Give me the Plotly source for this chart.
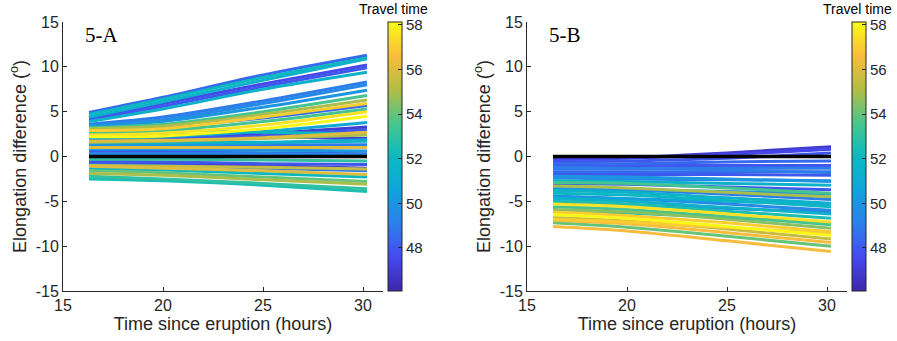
import plotly.graph_objects as go
from plotly.colors import sample_colorscale

# sample times (hours since eruption) at which each curve is read
x_hours = [16.3, 20, 25, 30.2]

# Panel 5-A: elongation difference at x_hours, and travel time of each run
a_curves = [
    [4.9, 6.6, 9.1, 11.3], [4.7, 6.4, 8.8, 11.0], [4.4, 6.1, 8.5, 10.9], [4.3, 5.9, 8.1, 10.2],
    [4.1, 5.6, 7.8, 9.9], [3.9, 5.3, 7.5, 9.4], [3.6, 4.4, 6.2, 8.3], [3.5, 4.1, 5.9, 8.0],
    [3.4, 3.9, 5.5, 7.4], [3.2, 3.6, 5.0, 6.8], [3.1, 3.4, 4.7, 6.3], [2.9, 3.1, 4.4, 5.9],
    [2.8, 3.3, 4.3, 5.7], [2.6, 2.9, 3.9, 5.3], [2.4, 2.6, 3.5, 5.0], [2.2, 2.3, 3.1, 4.5],
    [2.0, 2.2, 2.8, 3.8], [2.3, 2.4, 2.6, 3.3], [1.9, 2.0, 2.3, 3.0], [1.7, 1.8, 2.1, 2.7],
    [2.5, 2.4, 2.2, 2.0], [1.5, 1.5, 1.6, 1.7], [1.3, 1.3, 1.3, 1.3], [1.0, 1.0, 1.0, 1.0],
    [0.8, 0.8, 0.7, 0.6], [0.5, 0.5, 0.4, 0.3], [0.3, 0.3, 0.3, 0.2], [-0.3, -0.3, -0.4, -0.5],
    [-0.5, -0.6, -0.8, -0.9], [-0.7, -0.8, -1.0, -1.3], [-0.9, -1.0, -1.3, -1.6], [-1.1, -1.3, -1.6, -2.0],
    [-1.3, -1.5, -1.9, -2.3], [-1.6, -1.8, -2.3, -2.8], [-1.9, -2.1, -2.6, -3.1], [-2.2, -2.5, -3.0, -3.6],
    [-2.5, -2.7, -3.2, -3.9], [1.6, 1.7, 2.0, 2.4], [3.3, 3.0, 2.7, 2.5], [1.1, 1.2, 1.5, 1.9],
    [-1.0, -1.1, -1.2, -1.4], [0.6, 0.6, 0.8, 1.1],
]
a_travel = [
    48.5, 52, 51.5, 47.5, 48, 51.5, 49, 49.5, 50, 53.5, 55, 57,
    48.5, 53.5, 57.5, 58, 51, 47, 48, 56, 47, 51.5, 49, 56,
    50, 48, 49.5, 53, 48, 47, 49, 56, 52, 54, 55, 53,
    52.5, 55, 52, 50, 55.5, 47.5,
]

# Panel 5-B
b_curves = [
    [-0.2, -0.1, 0.4, 1.1], [-0.4, -0.2, 0.2, 0.8], [-0.6, -0.5, -0.2, 0.4], [-0.8, -0.8, -0.6, -0.5],
    [-1.0, -1.0, -1.0, -1.0], [-1.4, -1.4, -1.3, -1.3], [-1.7, -1.7, -1.7, -1.7], [-2.0, -2.0, -2.0, -2.1],
    [-2.4, -2.5, -2.6, -2.7], [-2.7, -2.8, -3.0, -3.2], [-3.0, -3.1, -3.4, -3.7], [-2.9, -3.0, -3.5, -4.1],
    [-3.3, -3.5, -4.0, -4.5], [-3.5, -3.7, -4.2, -4.8], [-3.8, -4.0, -4.6, -5.2], [-4.1, -4.3, -4.9, -5.6],
    [-4.4, -4.7, -5.3, -6.0], [-4.7, -5.0, -5.7, -6.4], [-5.0, -5.3, -6.1, -6.9], [-5.3, -5.6, -6.4, -7.3],
    [-5.6, -5.9, -6.7, -7.6], [-5.9, -6.2, -7.0, -8.0], [-6.2, -6.6, -7.4, -8.4], [-6.5, -6.9, -7.8, -8.8],
    [-6.8, -7.2, -8.1, -9.2], [-7.1, -7.5, -8.5, -9.6], [-7.4, -7.9, -8.9, -10.0], [-7.8, -8.3, -9.4, -10.6],
    [-3.6, -3.7, -3.9, -4.2], [-4.6, -4.7, -5.0, -5.3], [-5.2, -5.4, -5.8, -6.2], [-1.2, -1.3, -1.5, -1.8],
    [-2.2, -2.3, -2.5, -2.8], [-6.0, -6.3, -6.8, -7.4], [-7.0, -7.3, -7.9, -8.6],
]
b_travel = [
    47, 47.5, 48, 48.5, 48, 49, 48.5, 48, 49.5, 51.5, 48, 53.5,
    55, 49, 51.5, 52, 49.5, 51.5, 52.5, 57.5, 53.5, 54.5, 57, 58,
    55.5, 56.5, 54, 56.5, 50, 50.5, 49, 49, 50, 52, 57,
]

reference_line = [0, 0, 0, 0]

travel_min, travel_max = 46.07, 58.13
cbar_ticks = [48, 50, 52, 54, 56, 58]
x_ticks = [15, 20, 25, 30]
y_ticks = [-15, -10, -5, 0, 5, 10, 15]

parula = [
    [0.0, "#3E26A8"], [0.125, "#4549EE"], [0.25, "#2D7FEA"], [0.375, "#12A3DA"],
    [0.5, "#0BBAC0"], [0.625, "#4BC58C"], [0.75, "#B2BD46"], [0.875, "#FBBC3C"],
    [1.0, "#F9FB15"],
]


def color_of(t):
    return sample_colorscale(parula, [(t - travel_min) / (travel_max - travel_min)])[0]


fig = go.Figure()
font_main = "Liberation Sans, Arial, sans-serif"
axis_color = "#262626"

panels = [
    (a_curves, a_travel, "x", "y", 388 / 897, "5-A", 83, 359),
    (b_curves, b_travel, "x2", "y2", 852 / 897, "5-B", 547, 823),
]
for curves, travel, xa, ya, cbx, label, lx, tx in panels:
    order = sorted(range(len(curves)), key=lambda i: travel[i])
    for i in order:
        fig.add_trace(go.Scatter(
            x=x_hours, y=curves[i], mode="lines", xaxis=xa, yaxis=ya,
            line=dict(color=color_of(travel[i]), width=3, shape="spline", smoothing=0.8),
            showlegend=False, hoverinfo="skip"))
    fig.add_trace(go.Scatter(
        x=x_hours, y=reference_line, mode="lines", xaxis=xa, yaxis=ya,
        line=dict(color="black", width=3.5), showlegend=False))
    fig.add_trace(go.Scatter(
        x=[None], y=[None], mode="markers", xaxis=xa, yaxis=ya, showlegend=False,
        marker=dict(color=[travel_min], colorscale=parula, cmin=travel_min, cmax=travel_max,
                    showscale=True,
                    colorbar=dict(x=cbx, xanchor="left", xref="paper", thickness=14,
                                  thicknessmode="pixels", len=269 / 341, lenmode="fraction",
                                  y=(341 - 22) / 341, yanchor="top",
                                  tickvals=cbar_ticks, ticks="inside", ticklen=4,
                                  tickcolor=axis_color, outlinecolor=axis_color, outlinewidth=1,
                                  tickfont=dict(family=font_main, size=15, color=axis_color),
                                  xpad=0, ypad=0))))
    fig.add_annotation(text=label, xref="paper", yref="paper", x=lx / 897, y=1 - 35 / 341,
                       xanchor="left", yanchor="middle", showarrow=False,
                       font=dict(family="Liberation Serif, Times New Roman, serif", size=21, color="black"))
    fig.add_annotation(text="Travel time", xref="paper", yref="paper", x=tx / 897, y=1 - 9 / 341,
                       xanchor="left", yanchor="middle", showarrow=False, xshift=-2,
                       font=dict(family=font_main, size=14, color="black"))

xaxis_common = dict(range=[15, 31], tickvals=x_ticks, ticks="inside", ticklen=4,
                    showline=True, linecolor=axis_color, linewidth=1, tickcolor=axis_color,
                    showgrid=False, zeroline=False, automargin=False,
                    tickfont=dict(family=font_main, size=16, color=axis_color),
                    title=dict(text="Time since eruption (hours)", standoff=3,
                               font=dict(family=font_main, size=18, color=axis_color)))
yaxis_common = dict(range=[-15, 15], tickvals=y_ticks, ticktext=[str(v) for v in y_ticks],
                    ticks="inside", ticklen=4,
                    showline=True, linecolor=axis_color, linewidth=1, tickcolor=axis_color,
                    showgrid=False, zeroline=False, automargin=False,
                    tickfont=dict(family=font_main, size=16, color=axis_color),
                    title=dict(text="Elongation difference (<sup>o</sup>)", standoff=4,
                               font=dict(family=font_main, size=18, color=axis_color)))

ydom = [(341 - 291) / 341, (341 - 22) / 341]
fig.update_layout(
    width=897, height=341, margin=dict(l=0, r=0, t=0, b=0),
    paper_bgcolor="white", plot_bgcolor="white",
    xaxis=dict(domain=[63 / 897, 383 / 897], anchor="y", **xaxis_common),
    yaxis=dict(domain=ydom, anchor="x", **yaxis_common),
    xaxis2=dict(domain=[527 / 897, 847 / 897], anchor="y2", **xaxis_common),
    yaxis2=dict(domain=ydom, anchor="x2", **yaxis_common),
)

fig.write_html("out.html")
